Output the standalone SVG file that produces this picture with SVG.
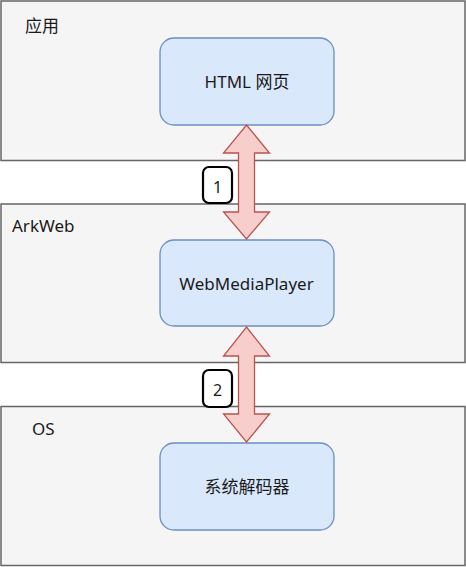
<svg xmlns="http://www.w3.org/2000/svg" width="466" height="567" viewBox="0 0 466 567">
<style>
.box{fill:#f5f5f5;stroke:#666666;stroke-width:1.5}
.node{fill:#dae8fc;stroke:#6c8ebf;stroke-width:1.3}
.arrow{fill:#f8cecc;stroke:#b85450;stroke-width:1.3}
.badge{fill:#ffffff;stroke:#000000;stroke-width:2.2}
text{font-family:"Noto Sans","Noto Sans CJK SC",sans-serif;font-size:17px;fill:#1a1a1a}
.c{text-anchor:middle}
.n{font-size:16px}
</style>
<rect width="466" height="567" fill="#ffffff"/>
<g id="layer-app">
<rect class="box" x="1" y="1" width="464" height="159.5"/>
<text x="25" y="31.5">应用</text>
</g>
<g id="layer-arkweb">
<rect class="box" x="1" y="204" width="464" height="158.5"/>
<text x="12" y="232">ArkWeb</text>
</g>
<g id="layer-os">
<rect class="box" x="1" y="406.5" width="464" height="159"/>
<text x="32" y="435">OS</text>
</g>
<g id="node-html">
<rect class="node" x="160" y="38" width="174" height="87" rx="14"/>
<text class="c" x="247" y="88">HTML 网页</text>
</g>
<g id="node-player">
<rect class="node" x="160" y="240" width="174" height="86" rx="14"/>
<text class="c" x="246.5" y="289.5">WebMediaPlayer</text>
</g>
<g id="node-decoder">
<rect class="node" x="160" y="443" width="174" height="87" rx="14"/>
<text class="c" x="247" y="492.5">系统解码器</text>
</g>
<g id="connectors">
<path class="arrow" d="M246.5 125 L269.5 153 L254.5 153 L254.5 212 L269.5 212 L246.5 239 L223.5 212 L238.5 212 L238.5 153 L223.5 153 Z"/>
<path class="arrow" d="M246.5 327 L269.5 356 L254.5 356 L254.5 414 L269.5 414 L246.5 442 L223.5 414 L238.5 414 L238.5 356 L223.5 356 Z"/>
</g>
<g id="badge-1">
<rect class="badge" x="203" y="167" width="29" height="36" rx="6"/>
<text class="c n" x="217.5" y="192.5">1</text>
</g>
<g id="badge-2">
<rect class="badge" x="203" y="370" width="29" height="37" rx="6"/>
<text class="c n" x="217.5" y="395.5">2</text>
</g>
</svg>
